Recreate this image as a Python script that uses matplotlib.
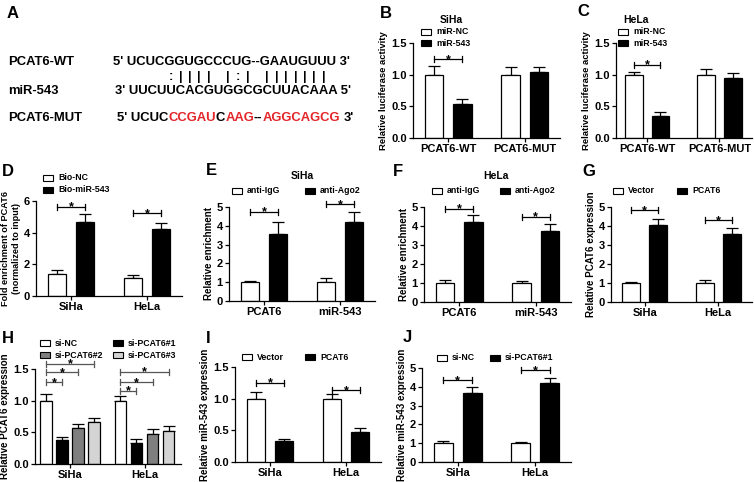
import matplotlib
matplotlib.use('Agg')
import matplotlib.pyplot as plt
from matplotlib.patches import Rectangle
from matplotlib.font_manager import FontProperties
import numpy as np

plt.rcParams['font.family'] = ['Liberation Sans', 'DejaVu Sans']
plt.rcParams['font.weight'] = 'bold'
plt.rcParams['axes.labelweight'] = 'bold'

W, H = 754, 482
fig = plt.figure(figsize=(W / 100, H / 100), dpi=100)

# ---------------- data ----------------
seq_wt = "5' UCUCGGUGCCCUG--GAAUGUUU 3'"
seq_mir = "3' UUCUUCACGUGGCGCUUACAAA 5'"
seq_mut = "5' UCUCCCGAUCAAG--AGGCAGCG 3'"
mut_red_spans = [(7, 12), (13, 16), (18, 26)]
pair_idx = [4, 5, 6, 7, 8, 10, 11, 12, 14, 15, 16, 17, 18, 19, 20]   # index into miR-543 bases
pair_sym = [':', '|', '|', '|', '|', '|', ':', '|', '|', '|', '|', '|', '|', '|', '|']

b_groups = ['PCAT6-WT', 'PCAT6-MUT']
b_labels = ['miR-NC', 'miR-543']
b_vals = [[1.00, 1.00], [0.54, 1.05]]
b_errs = [[0.13, 0.12], [0.08, 0.07]]
b_sig = [(0, 1, 1.24)]

c_groups = ['PCAT6-WT', 'PCAT6-MUT']
c_labels = ['miR-NC', 'miR-543']
c_vals = [[1.00, 1.00], [0.35, 0.94]]
c_errs = [[0.05, 0.09], [0.06, 0.08]]
c_sig = [(0, 1, 1.16)]

d_groups = ['SiHa', 'HeLa']
d_labels = ['Bio-NC', 'Bio-miR-543']
d_vals = [[1.38, 1.16], [4.70, 4.23]]
d_errs = [[0.26, 0.17], [0.50, 0.40]]
d_sig = [(0, 1, 5.65), (1, 1, 5.22)]

e_groups = ['PCAT6', 'miR-543']
e_labels = ['anti-IgG', 'anti-Ago2']
e_vals = [[1.00, 1.00], [3.55, 4.20]]
e_errs = [[0.05, 0.20], [0.65, 0.55]]
e_sig = [(0, 1, 4.75), (1, 1, 5.15)]

f_groups = ['PCAT6', 'miR-543']
f_labels = ['anti-IgG', 'anti-Ago2']
f_vals = [[1.00, 1.00], [4.20, 3.72]]
f_errs = [[0.18, 0.08], [0.40, 0.40]]
f_sig = [(0, 1, 4.90), (1, 1, 4.50)]

g_groups = ['SiHa', 'HeLa']
g_labels = ['Vector', 'PCAT6']
g_vals = [[1.00, 1.00], [4.03, 3.60]]
g_errs = [[0.05, 0.15], [0.32, 0.28]]
g_sig = [(0, 1, 4.82), (1, 1, 4.30)]

h_groups = ['SiHa', 'HeLa']
h_labels = ['si-NC', 'si-PCAT6#1', 'si-PCAT6#2', 'si-PCAT6#3']
h_vals = [[1.00, 1.00], [0.38, 0.33], [0.57, 0.47], [0.67, 0.52]]
h_errs = [[0.10, 0.07], [0.05, 0.07], [0.06, 0.08], [0.06, 0.08]]
h_sig = [(0, 1, 1.29), (0, 2, 1.45), (0, 3, 1.58),
         (1, 1, 1.16), (1, 2, 1.29), (1, 3, 1.46)]

i_groups = ['SiHa', 'HeLa']
i_labels = ['Vector', 'PCAT6']
i_vals = [[1.00, 1.00], [0.33, 0.47]]
i_errs = [[0.11, 0.07], [0.04, 0.07]]
i_sig = [(0, 1, 1.25), (1, 1, 1.13)]

j_groups = ['SiHa', 'HeLa']
j_labels = ['si-NC', 'si-PCAT6#1']
j_vals = [[1.00, 1.00], [3.65, 4.20]]
j_errs = [[0.14, 0.05], [0.33, 0.25]]
j_sig = [(0, 1, 4.35), (1, 1, 4.88)]

# ---------------- styles ----------------
C2 = ['white', 'black']
C4 = ['white', 'black', '#7f7f7f', '#d4d4d4']
TICK_FS = 8
LAB_FS = 7.0
LEG_FS = 6.3


def fx(px):
    return px / W


def fy(py):
    return 1 - py / H


def make_ax(l, r, t, b):
    return fig.add_axes([fx(l), fy(b), (r - l) / W, (b - t) / H])


def bar_panel(box, groups, vals, errs, colors, ylim, yticks, yfmt, ylabel,
              sig, width=0.245, step=0.37, xlim=(-0.46, 1.46), sigcolor='black',
              labfs=LAB_FS):
    ax = make_ax(*box)
    n = len(vals)
    xg = np.arange(len(groups))
    offs = [(k - (n - 1) / 2) * step for k in range(n)]
    for k in range(n):
        x = xg + offs[k]
        ax.bar(x, vals[k], width=width, color=colors[k], edgecolor='black',
               linewidth=0.9, zorder=2)
        ax.errorbar(x, vals[k], yerr=[np.zeros(len(groups)), errs[k]], fmt='none',
                    ecolor='black', elinewidth=0.9, capsize=4.2, capthick=0.9, zorder=1)
    ax.set_xlim(*xlim)
    ax.set_ylim(*ylim)
    ax.set_xticks(xg)
    ax.set_xticklabels(groups, fontsize=TICK_FS, fontweight='bold')
    ax.set_yticks(yticks)
    ax.set_yticklabels([yfmt.format(v) for v in yticks], fontsize=TICK_FS, fontweight='bold')
    for s in ['top', 'right']:
        ax.spines[s].set_visible(False)
    for s in ['left', 'bottom']:
        ax.spines[s].set_linewidth(0.9)
    ax.tick_params(axis='both', direction='out', length=3, width=0.9, pad=1.5)
    ax.set_ylabel(ylabel, fontsize=labfs, fontweight='bold', labelpad=2)
    ax.patch.set_alpha(0)
    hpx = box[3] - box[2]
    d = 3.0 / hpx * (ylim[1] - ylim[0])
    for g, k, y in sig:
        x1 = xg[g] + offs[0]
        x2 = xg[g] + offs[k]
        ax.plot([x1, x2], [y, y], color=sigcolor, lw=0.9, clip_on=False, zorder=3)
        for xx in (x1, x2):
            ax.plot([xx, xx], [y - d, y + d], color=sigcolor, lw=0.9, clip_on=False, zorder=3)
        ax.annotate('*', xy=((x1 + x2) / 2, y), xytext=(0, -2.6), textcoords='offset points',
                    ha='center', va='baseline', fontsize=9, fontweight='bold',
                    annotation_clip=False)
    return ax


def legend(entries, fs=LEG_FS):
    # entries: (x_px, y_px, label, color)
    for x, y, lab, col in entries:
        fig.patches.append(Rectangle((fx(x), fy(y + 3)), 10 / W, 6 / H, transform=fig.transFigure,
                                     facecolor=col, edgecolor='black', linewidth=0.8))
        fig.text(fx(x + 15), fy(y), lab, fontsize=fs, fontweight='bold', va='center', ha='left')


def letter(x, y, s):
    fig.text(fx(x), fy(y), s, fontsize=12, fontweight='bold', va='baseline', ha='left')


# ---------------- panel A ----------------
letter(7, 18, 'A')
SFS = 9.4
renderer = fig.canvas.get_renderer()
prop = FontProperties(family=['Liberation Sans'], weight='bold', size=SFS)


def tw(s):
    w, h, dd = renderer.get_text_width_height_descent(s, prop, ismath=False)
    return w


def char_left(seq, i):
    # left ink edge of character i relative to ink start of the string
    return tw(seq[:i + 1]) - tw(seq[i])


fig.text(fx(8), fy(62), 'PCAT6-WT', fontsize=SFS, fontweight='bold', va='center')
fig.text(fx(8), fy(91), 'miR-543', fontsize=SFS, fontweight='bold', va='center')
fig.text(fx(8), fy(118), 'PCAT6-MUT', fontsize=SFS, fontweight='bold', va='center')
fig.text(fx(113), fy(62), seq_wt, fontsize=SFS, fontweight='bold', va='center')
MIR_X = 115
fig.text(fx(MIR_X), fy(91), seq_mir, fontsize=SFS, fontweight='bold', va='center')

# mutant sequence, drawn segment by segment with the mutated bases in red
MUT_X = 117
red_color = '#e3262a'
bounds = sorted(set([0, len(seq_mut)] + [a for a, b in mut_red_spans] + [b for a, b in mut_red_spans]))
for a, b in zip(bounds[:-1], bounds[1:]):
    seg = seq_mut[a:b]
    start = a
    while seg and seg[0] == ' ':
        seg = seg[1:]
        start += 1
    if not seg:
        continue
    red = any(a >= s and b <= e for s, e in mut_red_spans)
    xs = MUT_X + (char_left(seq_mut, start) if start > 0 else 0)
    fig.text(fx(xs), fy(118), seg, fontsize=SFS, fontweight='bold', va='center',
             color=red_color if red else 'black')

# pairing marks centred on miR-543 bases (offset 3 for the "3' " prefix)
for idx, sym in zip(pair_idx, pair_sym):
    i = idx + 3
    xc = MIR_X + tw(seq_mir[:i + 1]) - tw(seq_mir[i]) / 2
    fig.text(fx(xc), fy(77), sym, fontsize=SFS, fontweight='bold', va='center', ha='center')

# ---------------- panel B / C ----------------
letter(380, 18, 'B')
fig.text(fx(451), fy(20), 'SiHa', fontsize=7.5, fontweight='bold', ha='center', va='center')
bar_panel((413, 560, 43, 138), b_groups, b_vals, b_errs, C2, (0, 1.5), [0, 0.5, 1.0, 1.5],
          '{:.1f}', 'Relative luciferase activity', b_sig, labfs=6.8)
legend([(421, 32, b_labels[0], C2[0]), (421, 43, b_labels[1], C2[1])])

letter(577, 16, 'C')
fig.text(fx(636), fy(20), 'HeLa', fontsize=7.5, fontweight='bold', ha='center', va='center')
bar_panel((616, 752, 43, 138), c_groups, c_vals, c_errs, C2, (0, 1.5), [0, 0.5, 1.0, 1.5],
          '{:.1f}', 'Relative luciferase activity', c_sig, xlim=(-0.43, 1.45), labfs=6.8)
legend([(618, 32, c_labels[0], C2[0]), (618, 43, c_labels[1], C2[1])])

# ---------------- panel D ----------------
letter(2, 176, 'D')
bar_panel((36, 182, 201, 296), d_groups, d_vals, d_errs, C2, (0, 6), [0, 2, 4, 6],
          '{:d}', 'Fold enrichment of PCAT6\n(normalized to input)', d_sig, labfs=6.6)
legend([(43, 178, d_labels[0], C2[0]), (43, 190, d_labels[1], C2[1])])

# ---------------- panel E ----------------
letter(206, 175, 'E')
fig.text(fx(302), fy(176), 'SiHa', fontsize=7.5, fontweight='bold', ha='center', va='center')
bar_panel((229, 375, 207, 301), e_groups, e_vals, e_errs, C2, (0, 5), [0, 1, 2, 3, 4, 5],
          '{:d}', 'Relative enrichment', e_sig)
legend([(232, 191, e_labels[0], C2[0]), (305, 191, e_labels[1], C2[1])])

# ---------------- panel F ----------------
letter(393, 176, 'F')
fig.text(fx(496), fy(176), 'HeLa', fontsize=7.5, fontweight='bold', ha='center', va='center')
bar_panel((424, 571, 207, 302), f_groups, f_vals, f_errs, C2, (0, 5), [0, 1, 2, 3, 4, 5],
          '{:d}', 'Relative enrichment', f_sig)
legend([(432, 191, f_labels[0], C2[0]), (500, 191, f_labels[1], C2[1])])

# ---------------- panel G ----------------
letter(582, 176, 'G')
bar_panel((611, 752, 207, 302), g_groups, g_vals, g_errs, C2, (0, 5), [0, 1, 2, 3, 4, 5],
          '{:d}', 'Relative PCAT6 expression', g_sig)
legend([(613, 191, g_labels[0], C2[0]), (677, 191, g_labels[1], C2[1])])

# ---------------- panel H ----------------
letter(2, 343, 'H')
bar_panel((35, 181, 369, 464), h_groups, h_vals, h_errs, C4, (0, 1.5), [0, 0.5, 1.0, 1.5],
          '{:.1f}', 'Relative PCAT6 expression', h_sig, width=0.155, step=0.216,
          xlim=(-0.47, 1.49), sigcolor='#555555')
legend([(40, 343, h_labels[0], C4[0]), (113, 343, h_labels[1], C4[1]),
        (40, 355, h_labels[2], C4[2]), (113, 355, h_labels[3], C4[3])])

# ---------------- panel I ----------------
letter(206, 343, 'I')
bar_panel((235, 381, 367, 462), i_groups, i_vals, i_errs, C2, (0, 1.5), [0, 0.5, 1.0, 1.5],
          '{:.1f}', 'Relative miR-543 expression', i_sig)
legend([(242, 357, i_labels[0], C2[0]), (305, 357, i_labels[1], C2[1])])

# ---------------- panel J ----------------
letter(403, 342, 'J')
bar_panel((422, 571, 368, 462), j_groups, j_vals, j_errs, C2, (0, 5), [0, 1, 2, 3, 4, 5],
          '{:d}', 'Relative miR-543 expression', j_sig)
legend([(437, 358, j_labels[0], C2[0]), (490, 358, j_labels[1], C2[1])])

fig.savefig('out.png', dpi=100)
